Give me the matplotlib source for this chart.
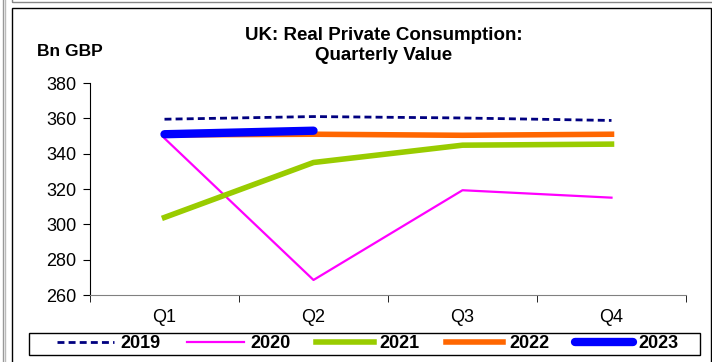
import matplotlib
matplotlib.use("Agg")
import matplotlib.pyplot as plt
from matplotlib.patches import Rectangle
from matplotlib.lines import Line2D

plt.rcParams['font.family'] = ['Liberation Sans', 'DejaVu Sans']

# Datos (Bn GBP)
quarters = ["Q1", "Q2", "Q3", "Q4"]
v2019 = [359.5, 361.0, 360.2, 358.8]
v2020 = [348.7, 268.5, 319.3, 315.1]
v2021 = [303.9, 335.0, 344.8, 345.4]
v2022 = [350.6, 351.0, 350.4, 351.0]
v2023 = [351.0, 353.0]

fig = plt.figure(figsize=(7.12, 3.62), dpi=100)
W, H = 712, 362

# marcos de la hoja de calculo
fig.patches.append(Rectangle((11.5 / W, -0.05), 699.5 / W, 1 - 7.5 / H + 0.05,
                             transform=fig.transFigure, fill=False,
                             edgecolor="black", linewidth=1.0))
fig.patches.append(Rectangle((11.5 / W, 1 - 1.5 / H), 1, 0.1,
                             transform=fig.transFigure, fill=False,
                             edgecolor="#888888", linewidth=1.0))
fig.add_artist(Line2D([2.5 / W, 2.5 / W], [0, 1], transform=fig.transFigure,
                      color="#999999", linewidth=1.0))
fig.add_artist(Line2D([5 / W, 5 / W], [0, 1], transform=fig.transFigure,
                      color="#bbbbbb", linewidth=1.0))

ax = fig.add_axes([90 / W, 1 - 295 / H, 596 / W, 212 / H])
x = list(range(len(quarters)))

ax.plot(x, v2019, color="#000080", linewidth=2, dashes=(2.5, 1.5), label="2019")
ax.plot(x, v2020, color="#FF00FF", linewidth=1.6, label="2020")
ax.plot(x, v2021, color="#99CC00", linewidth=4, label="2021")
ax.plot(x, v2022, color="#FF6600", linewidth=4, label="2022")
ax.plot(x[:len(v2023)], v2023, color="#0000FF", linewidth=6,
        solid_capstyle="round", label="2023")

ax.set_xlim(-0.5, 3.5)
ax.set_ylim(260, 380)
ax.set_yticks(range(260, 381, 20))
ax.set_xticks(x)
ax.set_xticklabels(quarters)
ax.set_xticks([-0.5, 0.5, 1.5, 2.5, 3.5], minor=True)
ax.tick_params(axis="x", which="major", length=0, pad=10, labelsize=13)
ax.tick_params(axis="x", which="minor", length=5, direction="out", color="black")
ax.tick_params(axis="y", length=5, direction="out", labelsize=13, pad=5)

for s in ["top", "right"]:
    ax.spines[s].set_visible(False)
ax.spines["bottom"].set_color("#808080")
ax.spines["left"].set_color("black")

fig.text(384 / W, 1 - 35 / H, "UK: Real Private Consumption:", ha="center",
         va="center", fontsize=13.5, fontweight="bold")
fig.text(384 / W, 1 - 56 / H, "Quarterly Value", ha="center",
         va="center", fontsize=13.5, fontweight="bold")
fig.text(37 / W, 1 - 52 / H, "Bn GBP", ha="left", va="center",
         fontsize=12.5, fontweight="bold")

# leyenda sin marco y un rectangulo aparte como caja
leg = fig.legend(loc="center", bbox_to_anchor=(368 / W, 1 - 344 / H), ncol=5,
                 frameon=False, prop={"weight": "bold", "size": 13},
                 handlelength=3.16, handletextpad=0.33, columnspacing=1.46,
                 borderpad=0.1)
fig.patches.append(Rectangle((29 / W, 1 - 355 / H), 671 / W, 22 / H,
                             transform=fig.transFigure, fill=False,
                             edgecolor="black", linewidth=1.0))

fig.savefig("out.png", dpi=100)
